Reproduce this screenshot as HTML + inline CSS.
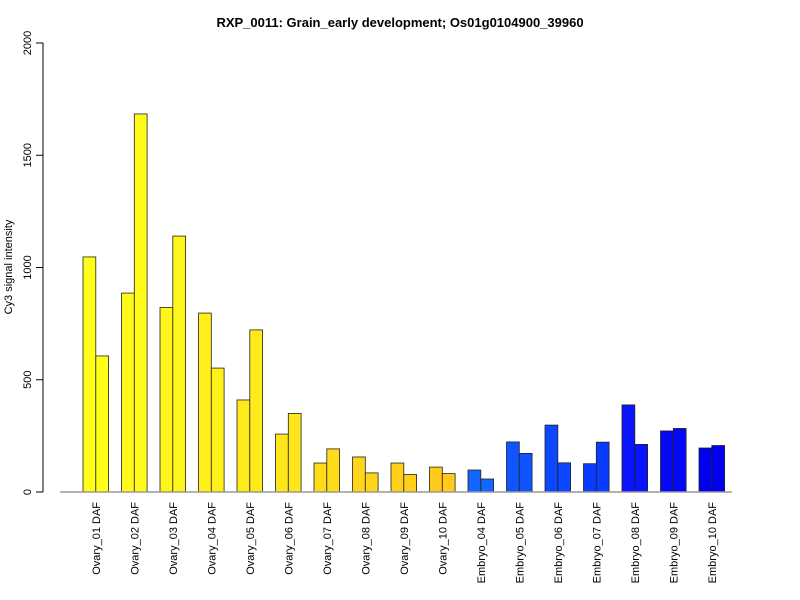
<!DOCTYPE html>
<html><head><meta charset="utf-8"><style>
body{margin:0;background:#fff}
svg{display:block;font-family:"Liberation Sans",Arial,sans-serif}
</style></head><body>
<svg id="chart" width="800" height="600">
<text x="400" y="27" text-anchor="middle" font-size="13" font-weight="bold">RXP_0011: Grain_early development; Os01g0104900_39960</text>
<text transform="translate(12,267) rotate(-90)" text-anchor="middle" font-size="11">Cy3 signal intensity</text>
<g id="yaxis"></g>
<g id="bars"></g>
<g id="xlabels"></g>
<line x1="60" y1="492" x2="732" y2="492" stroke="#999" stroke-width="1.5"/>
</svg>
<script>
const categories=["Ovary_01 DAF","Ovary_02 DAF","Ovary_03 DAF","Ovary_04 DAF","Ovary_05 DAF","Ovary_06 DAF","Ovary_07 DAF","Ovary_08 DAF","Ovary_09 DAF","Ovary_10 DAF","Embryo_04 DAF","Embryo_05 DAF","Embryo_06 DAF","Embryo_07 DAF","Embryo_08 DAF","Embryo_09 DAF","Embryo_10 DAF"];
const rep1=[1047,886,822,797,410,258,129,156,129,111,98,223,298,126,388,272,196];
const rep2=[606,1684,1140,552,722,350,192,85,78,82,58,172,130,222,212,283,207];
const yTicks=[0,500,1000,1500,2000];
const colors=["#ffff1a","#fffa1a","#fff51a","#fff01a","#ffeb1a","#ffe61a","#ffdc1a","#ffd51a","#ffcf1a","#ffca1a","#1466ff","#0f55ff","#0c48ff","#0a3cff","#0a14ff","#0508f5","#0000ee"];
const NS="http://www.w3.org/2000/svg";
const y=v=>492-v*(449/2000);
const gx=i=>83+i*38.5;
const bw=12.8;
const ya=document.getElementById('yaxis');
let l=document.createElementNS(NS,'line');
l.setAttribute('x1',43);l.setAttribute('x2',43);l.setAttribute('y1',y(0));l.setAttribute('y2',y(2000));l.setAttribute('stroke','#000');


ya.appendChild(l);
yTicks.forEach(t=>{
 const tk=document.createElementNS(NS,'line');
 tk.setAttribute('x1',36);tk.setAttribute('x2',43);tk.setAttribute('y1',y(t));tk.setAttribute('y2',y(t));tk.setAttribute('stroke','#000');
 
 
 ya.appendChild(tk);
 const tx=document.createElementNS(NS,'text');
 tx.setAttribute('transform',`translate(31,${y(t)}) rotate(-90)`);tx.setAttribute('text-anchor','middle');tx.setAttribute('font-size','11');tx.textContent=t;
 
 
 ya.appendChild(tx);
});
const bg=document.getElementById('bars'),xl=document.getElementById('xlabels');
categories.forEach((c,i)=>{
 [rep1[i],rep2[i]].forEach((v,j)=>{
  const r=document.createElementNS(NS,'rect');
  r.setAttribute('x',gx(i)+j*bw);r.setAttribute('y',y(v));r.setAttribute('width',bw);r.setAttribute('height',y(0)-y(v));
  r.setAttribute('fill',colors[i]);r.setAttribute('stroke','#222');r.setAttribute('stroke-width','0.8');
  
  
  bg.appendChild(r);
 });
 const t=document.createElementNS(NS,'text');
 t.setAttribute('transform',`translate(${gx(i)+bw+4},502) rotate(-90)`);t.setAttribute('text-anchor','end');t.setAttribute('font-size','11');t.textContent=c;
 
 
 xl.appendChild(t);
});
</script>
</body></html>
